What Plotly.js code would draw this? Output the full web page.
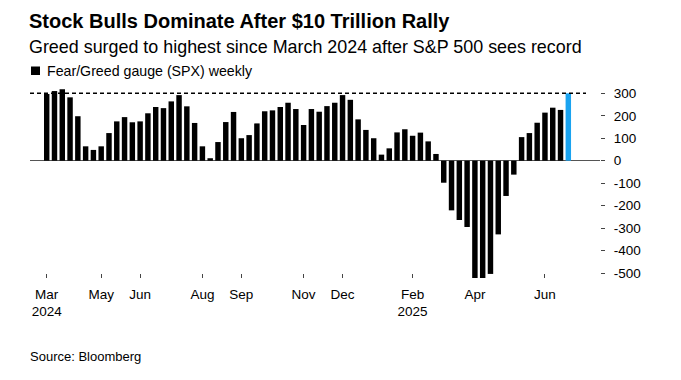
<!DOCTYPE html>
<html>
<head>
<meta charset="utf-8">
<script src="https://cdn.plot.ly/plotly-3.0.1.min.js"></script>
<style>html,body{margin:0;padding:0;background:#fff;}#chart{width:681px;height:380px;}</style>
</head>
<body>
<div id="chart"></div>
<script>
// Weekly Fear/Greed gauge (SPX), Mar 2024 – Jun 2025
const gaugeValues = [
  297, 310, 318, 282, 198, 64, 48, 64, 123, 175,
  194, 171, 175, 211, 239, 234, 264, 292, 242, 168,
  64, 11, 83, 172, 217, 100, 114, 166, 220, 224,
  239, 258, 230, 159, 230, 218, 243, 258, 292, 271,
  184, 137, 100, 27, 55, 126, 140, 111, 125, 86,
  30, -98, -221, -264, -295, -528, -524, -504, -328, -157,
  -62, 105, 123, 169, 214, 236, 226, 300
];
const weekIndex = gaugeValues.map((_, i) => i);
const tickPositions = [0, 7, 12, 20, 25, 33, 38, 47, 55, 64];
const tickLabels = ["Mar<br>2024", "May", "Jun", "Aug", "Sep", "Nov", "Dec", "Feb<br>2025", "Apr", "Jun"];
const yTicks = [300, 200, 100, 0, -100, -200, -300, -400, -500];
const referenceLevel = 300;

const barColors = gaugeValues.map((_, i) => i === gaugeValues.length - 1 ? "#1aa3f0" : "#000000");

// layout geometry helpers (plot area: x 30..600, y 88..278)
const L = 30, R = 600, T = 88, B = 278;
const xp = px => (px - L) / (R - L);
const yp = py => (B - py) / (B - T);

const FONT = "'Liberation Sans', Arial, Helvetica, sans-serif";

const trace = {
  type: "bar",
  x: weekIndex,
  y: gaugeValues,
  width: 0.7,
  marker: {color: barColors, line: {width: 0}},
  cliponaxis: false,
  hoverinfo: "y",
  showlegend: false
};

const layout = {
  width: 681,
  height: 380,
  margin: {l: L, r: 681 - R, t: T, b: 380 - B, pad: 0},
  paper_bgcolor: "#ffffff",
  plot_bgcolor: "#ffffff",
  font: {family: FONT, color: "#000000", size: 13},
  title: {
    text: "<b>Stock Bulls Dominate After $10 Trillion Rally</b>",
    font: {family: FONT, size: 20, color: "#000000"},
    x: 29 / 681, xref: "container", xanchor: "left",
    y: 1 - 20.5 / 380, yref: "container", yanchor: "middle"
  },
  bargap: 0.3,
  xaxis: {
    range: [-2.145, 71.07],
    tickmode: "array",
    tickvals: tickPositions,
    ticktext: tickLabels,
    ticks: "inside",
    ticklen: 4,
    tickwidth: 1,
    tickcolor: "#444444",
    showgrid: false,
    zeroline: false,
    showline: false,
    layer: "below traces",
    ticklabelstandoff: 6,
    tickfont: {family: FONT, size: 13.5, color: "#000000"},
    fixedrange: true
  },
  yaxis: {
    range: [-(B - 160.7) / 0.22467, (160.7 - T) / 0.22467],
    side: "right",
    tickmode: "array",
    tickvals: yTicks,
    ticktext: yTicks.map(String),
    ticks: "outside",
    ticklen: 4,
    tickwidth: 1,
    tickcolor: "#444444",
    showgrid: false,
    zeroline: true,
    zerolinecolor: "#555555",
    zerolinewidth: 1,
    showline: false,
    ticklabelstandoff: 6,
    tickfont: {family: FONT, size: 13.5, color: "#000000"},
    fixedrange: true
  },
  shapes: [
    {
      type: "line", xref: "paper", yref: "y",
      x0: 0, x1: xp(586), y0: referenceLevel, y1: referenceLevel,
      line: {color: "#000000", width: 1.5, dash: "4px,3px"},
      layer: "above"
    },
    {
      type: "rect", xref: "paper", yref: "paper",
      x0: xp(31), x1: xp(40), y0: yp(75), y1: yp(66.5),
      fillcolor: "#000000", line: {width: 0}
    }
  ],
  annotations: [
    {
      text: "Greed surged to highest since March 2024 after S&P 500 sees record",
      xref: "paper", yref: "paper", x: xp(27), y: yp(46.7),
      xanchor: "left", yanchor: "middle", showarrow: false,
      font: {family: FONT, size: 17.9, color: "#000000"}
    },
    {
      text: "Fear/Greed gauge (SPX) weekly",
      xref: "paper", yref: "paper", x: xp(45), y: yp(71),
      xanchor: "left", yanchor: "middle", showarrow: false,
      font: {family: FONT, size: 14.2, color: "#000000"}
    },
    {
      text: "Source: Bloomberg",
      xref: "paper", yref: "paper", x: xp(28), y: yp(356.7),
      xanchor: "left", yanchor: "middle", showarrow: false,
      font: {family: FONT, size: 13, color: "#000000"}
    }
  ]
};

Plotly.newPlot("chart", [trace], layout, {displayModeBar: false, staticPlot: true});
</script>
</body>
</html>
